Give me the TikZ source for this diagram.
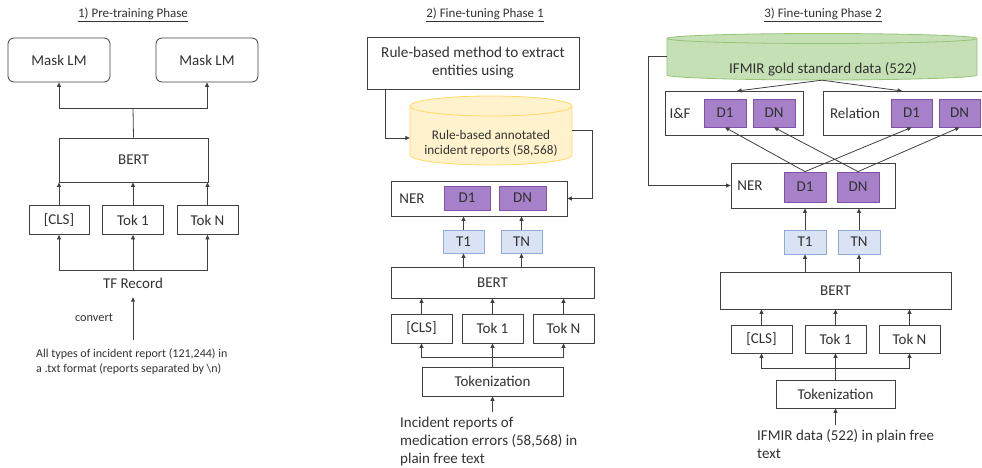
\documentclass[tikz,border=0pt]{standalone}
\usepackage{fontspec}
\setmainfont{Carlito}
\usetikzlibrary{arrows.meta}
\definecolor{lc}{RGB}{64,64,64}
\definecolor{tc}{RGB}{50,50,50}
\definecolor{purpfill}{RGB}{166,128,200}
\definecolor{purpline}{RGB}{128,80,170}
\definecolor{bluefill}{RGB}{218,227,243}
\definecolor{blueline}{RGB}{143,170,220}
\definecolor{yelfill}{RGB}{255,242,204}
\definecolor{yelline}{RGB}{255,217,102}
\definecolor{grnfill}{RGB}{197,224,180}
\definecolor{grnline}{RGB}{150,195,120}
\tikzset{
  x=1pt,y=-1pt,
  every node/.style={text=tc},
  fmain/.style={font=\fontsize{15}{18}\selectfont},
  box/.style={draw=lc,line width=0.8pt,fill=white,inner sep=0pt,fmain},
  rbox/.style={box,rounded corners=6pt},
  pbox/.style={draw=purpline,line width=0.8pt,fill=purpfill,inner sep=0pt,fmain},
  bbox/.style={draw=blueline,line width=0.8pt,fill=bluefill,inner sep=0pt,fmain},
  lbl/.style={inner sep=0pt,fmain},
  ttl/.style={inner sep=0pt,font=\fontsize{13}{15}\selectfont},
  ghost/.style={inner sep=0pt,draw=none},
  conn/.style={draw=lc,line width=0.8pt},
  arr/.style={conn,-{Triangle[length=4.5pt,width=4pt]}},
}
\begin{document}
\begin{tikzpicture}
\useasboundingbox (0,0) rectangle (982,468);

% ---------- Panel 1 ----------
\node[ttl] (title1) at (133,15) {\underline{1) Pre-training Phase}};
\node[rbox,minimum width=102,minimum height=44] (m1) at (59,60) {Mask LM};
\node[rbox,minimum width=102,minimum height=44] (m2) at (207,60) {Mask LM};
\node[box,minimum width=149,minimum height=44] (bert1) at (133.5,160) {BERT};
\node[box,minimum width=60,minimum height=29] (cls1) at (59,220) {[CLS]};
\node[box,minimum width=61,minimum height=29] (tok1a) at (133,220) {Tok 1};
\node[box,minimum width=61,minimum height=29] (tokn1) at (207.5,220) {Tok N};
\node[lbl,minimum height=28] (tfrec) at (133,283) {TF Record};
\node[inner sep=0pt,font=\fontsize{12.3}{14}\selectfont] (conv) at (94,318) {convert};
\node[inner sep=0pt,anchor=north west,align=left,font=\fontsize{12}{15}\selectfont] (in1txt) at (36,348.5) {All types of incident report (121,244) in\\a .txt format (reports separated by \textbackslash n)};
\coordinate (j1) at (133,108);
\coordinate (j2) at (133,270);
\coordinate (in1) at (133,340);
\draw[conn] (bert1.north) -- (j1);
\draw[arr] (j1) -| (m1.south);
\draw[arr] (j1) -| (m2.south);
\draw[arr] (cls1.north) -- (cls1.north |- bert1.south);
\draw[arr] (tok1a.north) -- (tok1a.north |- bert1.south);
\draw[arr] (tokn1.north) -- (tokn1.north |- bert1.south);
\draw[arr] (j2) -- (tok1a.south);
\draw[arr] (j2) -| (cls1.south);
\draw[arr] (j2) -| (tokn1.south);
\draw[arr] (in1) -- (tfrec.south);

% ---------- Panel 2 ----------
\node[ttl] (title2) at (485,15) {\underline{2) Fine-tuning Phase 1}};
\node[box,minimum width=212,minimum height=52,align=center,font=\fontsize{15.2}{18}\selectfont] (rule) at (473,63) {Rule-based method to extract\\entities using};
\draw[draw=yelline,line width=0.8pt,fill=yelfill] (410,106) -- (410,155) arc[start angle=180,end angle=360,x radius=81pt,y radius=10pt] -- (572,106) arc[start angle=0,end angle=180,x radius=81pt,y radius=10pt] -- cycle;
\draw[draw=yelline,line width=0.8pt] (410,106) arc[start angle=180,end angle=360,x radius=81pt,y radius=10pt];
\node[ghost,minimum width=162,minimum height=70] (cyl1) at (491,130) {};
\node[inner sep=0pt,align=center,font=\fontsize{13.2}{15}\selectfont] (cyl1txt) at (491,143) {Rule-based annotated\\incident reports (58,568)};
\node[box,minimum width=176,minimum height=35] (ner1) at (479,198.5) {};
\node[lbl] (ner1lab) at (412,199) {NER};
\node[pbox,minimum width=46,minimum height=24] (d1a) at (467,198) {D1};
\node[pbox,minimum width=47,minimum height=24] (dna) at (522.5,198) {DN};
\node[bbox,minimum width=41,minimum height=23] (t1a) at (463.5,241.5) {T1};
\node[bbox,minimum width=41,minimum height=23] (tna) at (521.5,241.5) {TN};
\node[box,minimum width=203,minimum height=31] (bert2) at (492.5,282.5) {BERT};
\node[box,minimum width=61,minimum height=29] (cls2) at (421.5,328.5) {[CLS]};
\node[box,minimum width=61,minimum height=29] (tok1b) at (492.5,328.5) {Tok 1};
\node[box,minimum width=61,minimum height=29] (toknb) at (563.5,328.5) {Tok N};
\node[box,minimum width=141,minimum height=29] (tokz2) at (492.5,381.5) {Tokenization};
\node[inner sep=0pt,anchor=north west,align=left,fmain] (in2txt) at (400,417) {Incident reports of\\medication errors (58,568) in\\plain free text};
\coordinate (c1) at (592,130);
\coordinate (j3) at (492.5,357);
\coordinate (in2) at (492.5,412);
\draw[arr] ([xshift=19pt]rule.south west) |- ([yshift=-8pt]cyl1.west);
\draw[arr] (cyl1.east) -- (c1) |- (ner1.east);
\draw[arr] (t1a.north) -- (t1a.north |- ner1.south);
\draw[arr] (tna.north) -- (tna.north |- ner1.south);
\draw[arr] (t1a.south |- bert2.north) -- (t1a.south);
\draw[arr] (tna.south |- bert2.north) -- (tna.south);
\draw[arr] (cls2.north) -- (cls2.north |- bert2.south);
\draw[arr] (tok1b.north) -- (tok1b.north |- bert2.south);
\draw[arr] (toknb.north) -- (toknb.north |- bert2.south);
\draw[conn] (tokz2.north) -- (j3);
\draw[arr] (j3) -- (tok1b.south);
\draw[arr] (j3) -| (cls2.south);
\draw[arr] (j3) -| (toknb.south);
\draw[arr] (in2) -- (tokz2.south);

% ---------- Panel 3 ----------
\node[ttl] (title3) at (823,15) {\underline{3) Fine-tuning Phase 2}};
\draw[draw=grnline,line width=0.8pt,fill=grnfill] (667,38.5) -- (667,75) arc[start angle=180,end angle=360,x radius=155pt,y radius=5pt] -- (977,38.5) arc[start angle=0,end angle=180,x radius=155pt,y radius=5pt] -- cycle;
\draw[draw=grnline,line width=0.8pt] (667,38.5) arc[start angle=180,end angle=360,x radius=155pt,y radius=5pt];
\node[ghost,minimum width=310,minimum height=47] (cyl2) at (822,56.5) {};
\node[lbl] (cyl2txt) at (823,69) {IFMIR gold standard data (522)};
\node[box,minimum width=138,minimum height=44] (iff) at (734,113) {};
\node[lbl] (ifflab) at (680,113) {I\&F};
\node[pbox,minimum width=42,minimum height=28] (d1b) at (725,113) {D1};
\node[pbox,minimum width=42,minimum height=28] (dnb) at (774,113) {DN};
\node[box,minimum width=167,minimum height=44] (rel) at (906.5,113) {};
\node[lbl] (rellab) at (855,113) {Relation};
\node[pbox,minimum width=41,minimum height=28] (d1c) at (911.5,113) {D1};
\node[pbox,minimum width=41,minimum height=28] (dnc) at (959.5,113) {DN};
\node[box,minimum width=164,minimum height=45] (ner3) at (813,185.5) {};
\node[lbl] (ner3lab) at (750,186) {NER};
\node[pbox,minimum width=42,minimum height=30] (d1d) at (805,187) {D1};
\node[pbox,minimum width=42,minimum height=30] (dnd) at (858,187) {DN};
\node[bbox,minimum width=42,minimum height=24] (t1c) at (805,242) {T1};
\node[bbox,minimum width=42,minimum height=24] (tnc) at (859,242) {TN};
\node[box,minimum width=231,minimum height=37] (bert3) at (835.5,290.5) {BERT};
\node[box,minimum width=61,minimum height=28] (cls3) at (761.5,339) {[CLS]};
\node[box,minimum width=61,minimum height=28] (tok1c) at (835.5,339) {Tok 1};
\node[box,minimum width=61,minimum height=28] (toknc) at (909.5,339) {Tok N};
\node[box,minimum width=119,minimum height=28] (tokz3) at (835.5,394) {Tokenization};
\node[inner sep=0pt,anchor=north west,align=left,fmain] (in3txt) at (757,429) {IFMIR data (522) in plain free\\text};
\coordinate (a1) at (737,91);
\coordinate (a2) at (902,91);
\coordinate (c2) at (648,56.5);
\coordinate (j4) at (835.5,368);
\coordinate (in3) at (835.5,425);
\draw[arr] (cyl2.south) -- (a1);
\draw[arr] (cyl2.south) -- (a2);
\draw[arr] (cyl2.west) -- (c2) |- (ner3.west);
\draw[arr] (d1d.north) -- (d1b.south);
\draw[arr] (d1d.north) -- (d1c.south);
\draw[arr] (dnd.north) -- (dnb.south);
\draw[arr] (dnd.north) -- (dnc.south);
\draw[arr] (t1c.north) -- (t1c.north |- ner3.south);
\draw[arr] (tnc.north) -- (tnc.north |- ner3.south);
\draw[arr] (t1c.south |- bert3.north) -- (t1c.south);
\draw[arr] (tnc.south |- bert3.north) -- (tnc.south);
\draw[arr] (cls3.north) -- (cls3.north |- bert3.south);
\draw[arr] (tok1c.north) -- (tok1c.north |- bert3.south);
\draw[arr] (toknc.north) -- (toknc.north |- bert3.south);
\draw[conn] (tokz3.north) -- (j4);
\draw[arr] (j4) -- (tok1c.south);
\draw[arr] (j4) -| (cls3.south);
\draw[arr] (j4) -| (toknc.south);
\draw[arr] (in3) -- (tokz3.south);
\end{tikzpicture}
\end{document}
